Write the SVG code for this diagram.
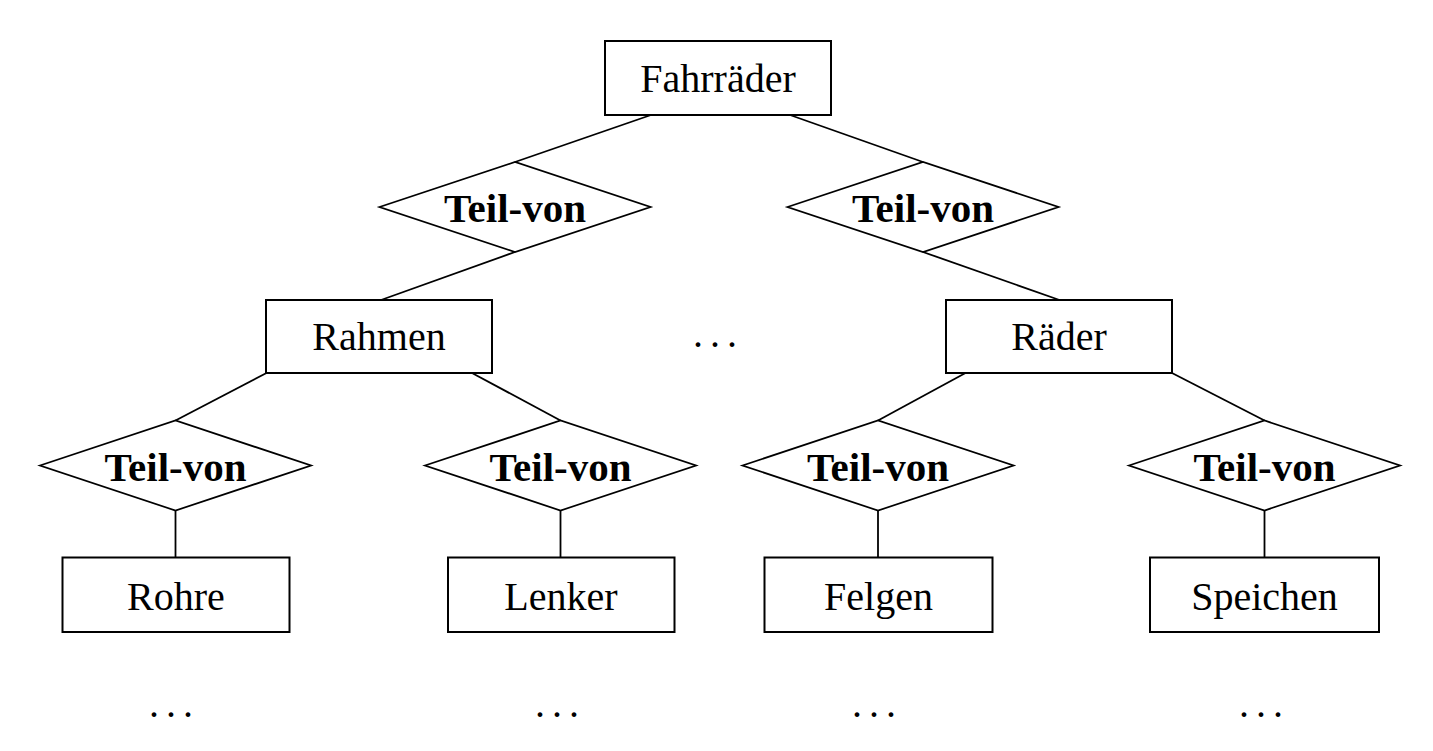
<svg xmlns="http://www.w3.org/2000/svg" width="1433" height="751" viewBox="0 0 1433 751">
<style>
.box{fill:#fff;stroke:#000;stroke-width:2}
.dia{fill:#fff;stroke:#000;stroke-width:1.8}
.lbl{font-family:"Liberation Serif","Times New Roman",serif;font-size:40px;text-anchor:middle;fill:#000}
.rel{font-family:"Liberation Serif","Times New Roman",serif;font-size:41px;font-weight:bold;text-anchor:middle;fill:#000}
.dots{font-family:"Liberation Serif","Times New Roman",serif;font-size:40px;fill:#000}
#connectors line{stroke:#000;stroke-width:1.8}
</style>
<rect width="1433" height="751" fill="#fff"/>
<g id="connectors">
<line x1="651" y1="115" x2="515" y2="162"/>
<line x1="790" y1="115" x2="923" y2="162"/>
<line x1="515" y1="252" x2="381" y2="300"/>
<line x1="923" y1="252" x2="1059.5" y2="300"/>
<line x1="266.5" y1="373" x2="175.5" y2="420.5"/>
<line x1="472" y1="373" x2="560.5" y2="420.5"/>
<line x1="965.5" y1="373" x2="878" y2="420.5"/>
<line x1="1172" y1="373" x2="1264.5" y2="420.5"/>
<line x1="175.5" y1="510.5" x2="175.5" y2="557.5"/>
<line x1="560.5" y1="510.5" x2="560.5" y2="557.5"/>
<line x1="878" y1="510.5" x2="878" y2="557.5"/>
<line x1="1264.5" y1="510.5" x2="1264.5" y2="557.5"/>
</g>
<g id="fahrraeder"><rect class="box" x="605" y="41" width="226" height="74"/><text class="lbl" x="718" y="92">Fahrräder</text></g>
<g id="teilvon1"><polygon class="dia" points="379.5,207 515,162 650.5,207 515,252"/><text class="rel" x="515" y="222">Teil-von</text></g>
<g id="teilvon2"><polygon class="dia" points="787.5,207 923,162 1058.5,207 923,252"/><text class="rel" x="923" y="222">Teil-von</text></g>
<g id="rahmen"><rect class="box" x="266" y="300" width="226" height="73"/><text class="lbl" x="379" y="350">Rahmen</text></g>
<g id="raeder"><rect class="box" x="946" y="300" width="226" height="73"/><text class="lbl" x="1059" y="350">Räder</text></g>
<g id="dots-mid"><text class="dots" x="693 710 727" y="347">...</text></g>
<g id="teilvon3"><polygon class="dia" points="40,465.5 175.5,420.5 311,465.5 175.5,510.5"/><text class="rel" x="175.5" y="480.5">Teil-von</text></g>
<g id="teilvon4"><polygon class="dia" points="425,465.5 560.5,420.5 696,465.5 560.5,510.5"/><text class="rel" x="560.5" y="480.5">Teil-von</text></g>
<g id="teilvon5"><polygon class="dia" points="742.5,465.5 878,420.5 1013.5,465.5 878,510.5"/><text class="rel" x="878" y="480.5">Teil-von</text></g>
<g id="teilvon6"><polygon class="dia" points="1129,465.5 1264.5,420.5 1400,465.5 1264.5,510.5"/><text class="rel" x="1264.5" y="480.5">Teil-von</text></g>
<g id="rohre"><rect class="box" x="62.5" y="557.5" width="227" height="74.5"/><text class="lbl" x="176" y="610">Rohre</text></g>
<g id="lenker"><rect class="box" x="448" y="557.5" width="226.5" height="74.5"/><text class="lbl" x="561" y="610">Lenker</text></g>
<g id="felgen"><rect class="box" x="764.5" y="557.5" width="228" height="74.5"/><text class="lbl" x="878.5" y="610">Felgen</text></g>
<g id="speichen"><rect class="box" x="1150" y="557.5" width="229" height="74.5"/><text class="lbl" x="1264.5" y="610">Speichen</text></g>
<g id="dots-bottom">
<text class="dots" x="149 166 183" y="717">...</text>
<text class="dots" x="535 552 569" y="717">...</text>
<text class="dots" x="852 869 886" y="717">...</text>
<text class="dots" x="1239 1256 1273" y="717">...</text>
</g>
</svg>
